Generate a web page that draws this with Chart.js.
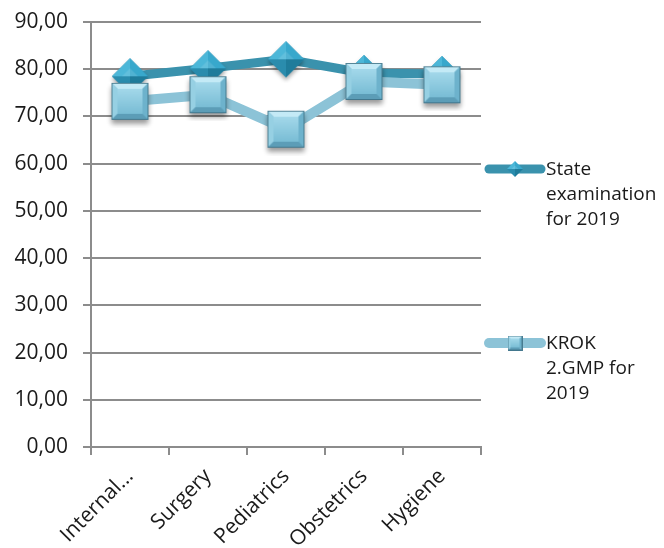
<!DOCTYPE html>
<html>
<head>
<meta charset="utf-8">
<script src="https://cdn.jsdelivr.net/npm/chart.js@4.4.1/dist/chart.umd.min.js"></script>
<style>
  html, body { margin: 0; padding: 0; background: #fff; }
  #wrap { position: relative; width: 664px; height: 548px; }
  #chart { position: absolute; left: 0; top: 0; }
  .leg { position: absolute; font-family: "Open Sans", sans-serif; font-size: 19px; line-height: 25px; color: #1a1a1a; }
  .legs { position: absolute; }
</style>
</head>
<body>
<div id="wrap">
  <canvas id="chart" width="664" height="548"></canvas>
  <canvas class="legs" id="leg1" width="70" height="24" style="left:478px;top:157px"></canvas>
  <div class="leg" id="legText1" style="left:546px;top:156px"></div>
  <canvas class="legs" id="leg2" width="70" height="24" style="left:478px;top:331px"></canvas>
  <div class="leg" id="legText2" style="left:546px;top:330px"></div>
</div>
<script>
// ---- data ----
const categories = ["Internal...", "Surgery", "Pediatrics", "Obstetrics", "Hygiene"];
const stateExam2019 = [78.5, 80.2, 82.1, 79.2, 79.0];
const krok2019 = [73.2, 74.6, 67.3, 77.4, 76.7];
const seriesNames = [["State", "examination", "for 2019"], ["KROK", "2.GMP for", "2019"]];
const yTickLabels = ["0,00", "10,00", "20,00", "30,00", "40,00", "50,00", "60,00", "70,00", "80,00", "90,00"];

const STATE_COLOR = '#3a92ad';
const KROK_COLOR = '#8cc3d7';

function makeDiamond(r, pad, shadow) {
  const c = document.createElement('canvas');
  const size = Math.round(2 * (r + pad));
  c.width = size; c.height = size;
  const ctx = c.getContext('2d');
  const m = size / 2;
  if (shadow) {
    ctx.save();
    ctx.shadowColor = 'rgba(0,0,0,0.35)';
    ctx.shadowBlur = 4;
    ctx.shadowOffsetY = 3;
    ctx.beginPath();
    ctx.moveTo(m - r, m); ctx.lineTo(m, m - r); ctx.lineTo(m + r, m); ctx.lineTo(m, m + r); ctx.closePath();
    ctx.fillStyle = '#2a8db0';
    ctx.fill();
    ctx.restore();
  }
  const facets = [
    [[m - r, m], [m, m - r], '#4cb7d8'],
    [[m, m - r], [m + r, m], '#38a8cc'],
    [[m + r, m], [m, m + r], '#1f7c9b'],
    [[m, m + r], [m - r, m], '#2a8cad']
  ];
  facets.forEach(f => {
    ctx.beginPath();
    ctx.moveTo(f[0][0], f[0][1]); ctx.lineTo(f[1][0], f[1][1]); ctx.lineTo(m, m); ctx.closePath();
    ctx.fillStyle = f[2];
    ctx.fill();
  });
  const ir = r * 0.45;
  ctx.beginPath();
  ctx.moveTo(m - ir, m); ctx.lineTo(m, m - ir); ctx.lineTo(m + ir, m); ctx.closePath();
  ctx.fillStyle = 'rgba(255,255,255,0.12)';
  ctx.fill();
  return c;
}

function makeSquare(s, bevel, pad, shadow) {
  const c = document.createElement('canvas');
  const size = Math.round(s + 2 * pad);
  c.width = size; c.height = size;
  const ctx = c.getContext('2d');
  const x0 = (size - s) / 2, y0 = (size - s) / 2, x1 = x0 + s, y1 = y0 + s;
  if (shadow) {
    ctx.save();
    ctx.shadowColor = 'rgba(0,0,0,0.4)';
    ctx.shadowBlur = 5;
    ctx.shadowOffsetY = 4;
    ctx.fillStyle = '#6aaecb';
    ctx.fillRect(x0, y0, s, s);
    ctx.restore();
  }
  const b = bevel;
  const poly = (pts, col) => {
    ctx.beginPath();
    ctx.moveTo(pts[0][0], pts[0][1]);
    for (let i = 1; i < pts.length; i++) ctx.lineTo(pts[i][0], pts[i][1]);
    ctx.closePath();
    ctx.fillStyle = col; ctx.fill();
  };
  poly([[x0, y0], [x1, y0], [x1 - b, y0 + b], [x0 + b, y0 + b]], '#c4eaf6');
  poly([[x0, y0], [x0 + b, y0 + b], [x0 + b, y1 - b], [x0, y1]], '#96d0e3');
  poly([[x1, y0], [x1, y1], [x1 - b, y1 - b], [x1 - b, y0 + b]], '#6db2cc');
  poly([[x0, y1], [x0 + b, y1 - b], [x1 - b, y1 - b], [x1, y1]], '#5c9db7');
  const g = ctx.createLinearGradient(0, y0 + b, 0, y1 - b);
  g.addColorStop(0, '#a3d8ea');
  g.addColorStop(1, '#79bdd5');
  ctx.fillStyle = g;
  ctx.fillRect(x0 + b, y0 + b, s - 2 * b, s - 2 * b);
  ctx.strokeStyle = 'rgba(60,110,130,0.8)';
  ctx.lineWidth = 1;
  ctx.strokeRect(x0 + 0.5, y0 + 0.5, s - 1, s - 1);
  return c;
}

const diamondImg = makeDiamond(18, 6, true);
const squareImg = makeSquare(37, 6, 8, true);

const fmtFont = (size, lh) => ({ family: "'Open Sans', sans-serif", size: size, lineHeight: lh || 1.2 });

const chart = new Chart(document.getElementById('chart'), {
  type: 'line',
  data: {
    labels: categories,
    datasets: [
      {
        label: seriesNames[0].join(' '),
        data: stateExam2019,
        borderColor: STATE_COLOR,
        backgroundColor: STATE_COLOR,
        borderWidth: 9,
        borderJoinStyle: 'round',
        borderCapStyle: 'round',
        pointStyle: diamondImg,
        pointRadius: 18,
        tension: 0,
        order: 1,
        clip: false
      },
      {
        label: seriesNames[1].join(' '),
        data: krok2019,
        borderColor: KROK_COLOR,
        backgroundColor: KROK_COLOR,
        borderWidth: 10,
        borderJoinStyle: 'round',
        borderCapStyle: 'round',
        pointStyle: squareImg,
        pointRadius: 18,
        tension: 0,
        order: 0,
        clip: false
      }
    ]
  },
  options: {
    responsive: false,
    animation: false,
    devicePixelRatio: 1,
    events: [],
    layout: { autoPadding: false, padding: { left: 0, right: 183, top: 22, bottom: 0 } },
    plugins: { legend: { display: false }, tooltip: { enabled: false } },
    scales: {
      x: {
        type: 'category',
        offset: true,
        grid: { offset: true, drawOnChartArea: false, drawTicks: true, tickLength: 8, color: '#8c8c8c', lineWidth: 2 },
        border: { color: '#8c8c8c', width: 2 },
        ticks: { minRotation: 45, maxRotation: 45, autoSkip: false, color: '#1a1a1a', font: fmtFont(21), padding: 9 },
        afterFit: (s) => { s.height = 101; s.paddingLeft = 0; s.paddingRight = 0; }
      },
      y: {
        min: 0,
        max: 90,
        grid: { color: '#8c8c8c', lineWidth: 2, tickLength: 8, drawTicks: true },
        border: { color: '#8c8c8c', width: 2 },
        ticks: {
          stepSize: 10,
          padding: 15,
          color: '#1a1a1a',
          font: fmtFont(21, 0.5),
          callback: (v, i) => yTickLabels[i]
        },
        afterFit: (s) => { s.width = 91; s.paddingTop = 0; s.paddingBottom = 0; }
      }
    }
  }
});

// ---- HTML legend ----
function drawLegendSample(id, color, width, img, mw) {
  const c = document.getElementById(id);
  const ctx = c.getContext('2d');
  ctx.strokeStyle = color;
  ctx.lineWidth = width;
  ctx.lineCap = 'round';
  ctx.beginPath();
  ctx.moveTo(11, 12); ctx.lineTo(63, 12);
  ctx.stroke();
  ctx.drawImage(img, 37 - mw / 2, 12 - mw / 2, mw, mw);
}
drawLegendSample('leg1', STATE_COLOR, 9, makeDiamond(8, 0, false), 16);
drawLegendSample('leg2', KROK_COLOR, 10, makeSquare(15, 3, 0, false), 15);
document.getElementById('legText1').innerHTML = seriesNames[0].join('<br>');
document.getElementById('legText2').innerHTML = seriesNames[1].join('<br>');
</script>
</body>
</html>
